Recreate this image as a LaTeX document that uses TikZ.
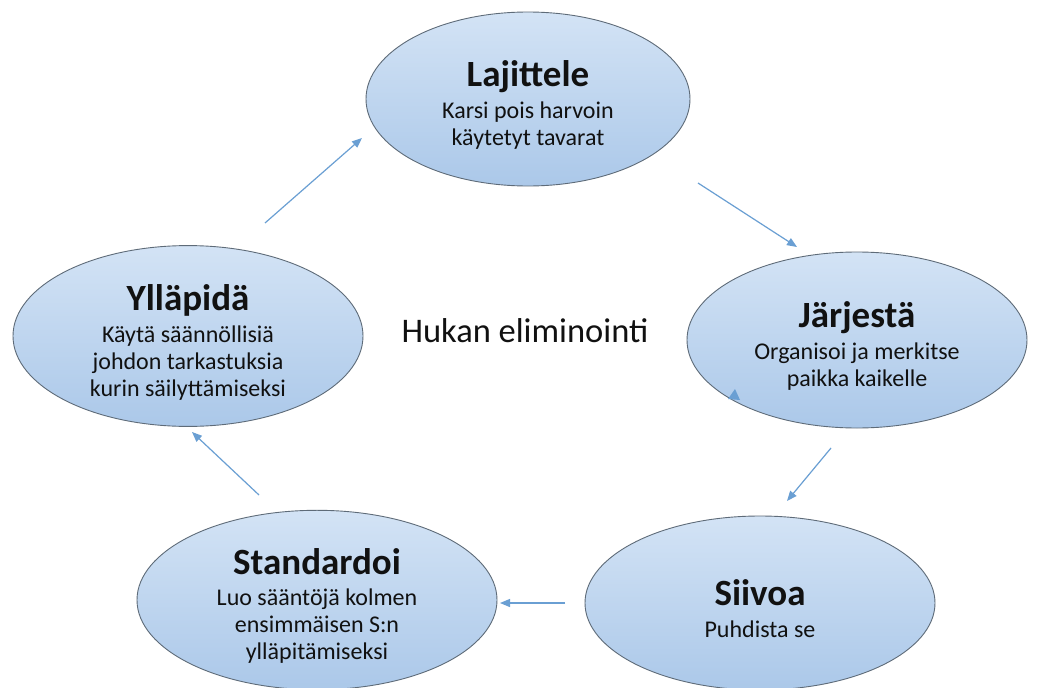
\documentclass[tikz,border=0pt]{standalone}
\usepackage{fontspec}
\setmainfont{Carlito}
\usetikzlibrary{arrows.meta,shapes.geometric}
\definecolor{edgec}{HTML}{5E6B78}
\definecolor{topc}{HTML}{D3E3F5}
\definecolor{botc}{HTML}{ABC8E9}
\definecolor{arrowc}{HTML}{6A9FD3}
\definecolor{textc}{HTML}{111111}
\tikzset{
  stage/.style={ellipse, draw=edgec, line width=0.9pt, top color=topc, bottom color=botc,
    inner sep=0pt, align=center, text=textc,
    font=\fontsize{24}{27}\selectfont},
  flow/.style={draw=arrowc, line width=1.2pt, -{Triangle[length=10pt,width=8pt]}},
}
\newcommand{\stitle}[1]{{\fontsize{37}{38}\selectfont\bfseries\rule{0pt}{38pt}#1}}
\begin{document}
\begin{tikzpicture}[x=1pt,y=-1pt]
\useasboundingbox[fill=white] (0,0) rectangle (1037,688);
\node[stage, minimum width=324pt, minimum height=174pt] (laj) at (528,99)
  {\stitle{Lajittele}\\[5pt] Karsi pois harvoin\\ käytetyt tavarat};
\node[stage, minimum width=340pt, minimum height=176pt] (jar) at (857,340)
  {\stitle{Järjestä}\\[5pt] Organisoi ja merkitse\\ paikka kaikelle};
\node[stage, minimum width=350pt, minimum height=174pt] (sii) at (760,603)
  {\stitle{Siivoa}\\[5pt] Puhdista se};
\node[stage, minimum width=360pt, minimum height=176pt] (sta) at (317,600)
  {\stitle{Standardoi}\\[4pt] Luo sääntöjä kolmen\\ ensimmäisen S:n\\ ylläpitämiseksi};
\node[stage, minimum width=350pt, minimum height=176pt] (yll) at (188,336)
  {\stitle{Ylläpidä}\\[5pt] Käytä säännöllisiä\\ johdon tarkastuksia\\ kurin säilyttämiseksi};
\node[text=textc, font=\fontsize{34.5}{36}\selectfont] (mid) at (525,331) {Hukan eliminointi};
\coordinate (a1s) at (265,223); \coordinate (a1e) at (362,138);
\coordinate (a2s) at (698,183); \coordinate (a2e) at (797,247);
\coordinate (a3s) at (831,448); \coordinate (a3e) at (787,501);
\coordinate (a4s) at (565,603); \coordinate (a4e) at (500,603);
\coordinate (a5s) at (259,495); \coordinate (a5e) at (192,432);
\draw[flow] (a1s) -- (a1e);
\draw[flow] (a2s) -- (a2e);
\draw[flow] (a3s) -- (a3e);
\draw[flow] (a4s) -- (a4e);
\draw[flow] (a5s) -- (a5e);
\fill[arrowc] (728,399) -- (735,389) -- (740,400) -- cycle;
\end{tikzpicture}
\end{document}
